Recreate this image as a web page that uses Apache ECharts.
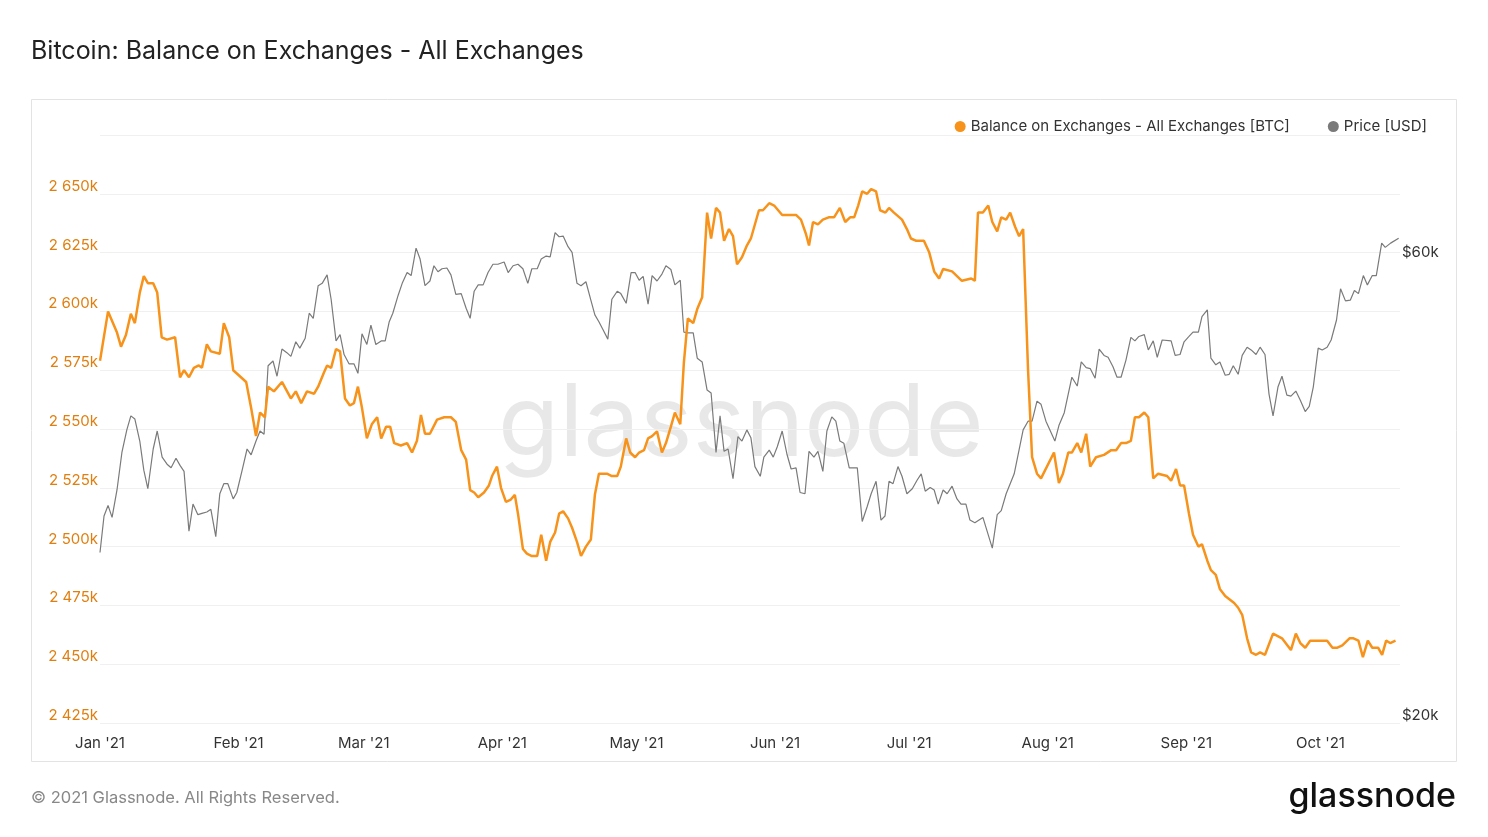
<!DOCTYPE html>
<html>
<head>
<meta charset="utf-8">
<script src="https://cdn.jsdelivr.net/npm/echarts@6/dist/echarts.min.js"></script>
<style>
  body { margin: 0; background: #fff; }
  #main { width: 1488px; height: 837px; }
</style>
</head>
<body>
<div id="main"></div>
<script>
// days since 1 Jan 2021, balance in thousand BTC
var balDay = [0,1.8,3.8,4.7,5.8,6.9,7.8,8.9,9.8,10.7,11.9,12.8,13.8,15,16.8,17.9,18.8,19.9,21,22.1,22.8,23.9,24.8,26.8,27.7,28.9,29.8,32.7,33.8,34.9,35.8,36.9,37.6,38.9,40.7,42.7,43.8,45,46.3,47.9,48.8,50.1,50.8,51.7,52.8,53.7,54.8,55.9,56.8,57.7,58.6,59.7,60.8,62,62.9,64,64.9,65.8,67.3,68.7,69.8,70.9,71.8,72.7,73.8,75.4,77,78.5,79.6,80.8,81.9,82.8,83.7,84.6,85.9,87,87.7,88.8,89.7,90.8,91.9,92.8,93.5,94.6,95.5,96.6,97.8,98.7,99.8,100.7,101.8,102.7,103.6,104.7,105.6,106.7,107.6,108.7,109.8,110.7,111.6,112.5,113.4,114.5,115.7,116.5,117.7,118.6,119.7,120.6,121.7,122.6,123.5,124.6,125.7,126.6,127.7,128.6,129.8,130.6,131.5,132.7,133.6,134.7,135.8,136.7,137.8,138.7,139.6,140.7,141.6,142.5,143.6,144.7,145.6,147.4,148.3,149.7,150.8,152.6,154.6,155.7,156.8,157.9,158.6,159.5,160.6,161.7,163,164.2,165.5,166.7,167.8,168.7,169.6,170.5,171.6,172.5,173.6,174.5,175.7,176.5,177.6,179.4,180.5,181.4,182.6,184.3,185.5,186.6,187.7,188.6,190.6,191.7,192.8,194.9,195.7,196.4,197.5,198.7,199.6,200.7,201.6,202.7,203.6,204.7,205.6,206.5,207.6,208.5,209.6,210.5,213.4,214.5,215.4,216.6,217.4,218.6,219.5,220.6,221.5,222.8,224.6,226.2,227.3,228.4,229.5,230.6,231.5,232.4,233.6,234.5,235.6,236.7,238.7,239.6,240.7,241.6,242.5,243.6,244.5,245.7,246.5,247.7,248.5,249.6,250.5,251.7,253.7,254.6,255.5,256.6,257.5,258.6,259.5,260.6,262.4,264.4,266.4,267.5,268.5,269.6,270.7,274.5,275.7,276.8,277.9,279.5,280.4,281.5,282.5,283.6,284.6,285.9,286.8,287.7,288.6,289.8];
var balVal = [2579,2600,2591,2585,2590,2599,2595,2608,2615,2612,2612,2608,2589,2588,2589,2572,2575,2572,2576,2577,2576,2586,2583,2582,2595,2589,2575,2570,2559,2547,2557,2555,2568,2566,2570,2563,2566,2561,2566,2565,2568,2574,2577,2576,2584,2583,2563,2560,2561,2568,2559,2546,2552,2555,2546,2551,2551,2544,2543,2544,2540,2545,2556,2548,2548,2554,2555,2555,2553,2541,2537,2524,2523,2521,2523,2526,2530,2534,2525,2519,2520,2522,2514,2499,2497,2496,2496,2505,2494,2502,2506,2514,2515,2512,2508,2502,2496,2500,2503,2522,2531,2531,2531,2530,2530,2534,2546,2540,2538,2540,2541,2546,2547,2549,2540,2544,2551,2557,2552,2578,2597,2595,2601,2606,2642,2631,2644,2642,2630,2635,2632,2620,2623,2628,2631,2643,2643,2646,2645,2641,2641,2641,2639,2633,2628,2638,2637,2639,2640,2640,2644,2638,2640,2640,2645,2651,2650,2652,2651,2643,2642,2644,2642,2639,2635,2631,2630,2630,2625,2617,2614,2618,2617,2615,2613,2614,2613,2642,2642,2645,2638,2634,2640,2639,2642,2636,2632,2635,2575,2538,2531,2529,2540,2527,2531,2540,2540,2544,2540,2548,2534,2538,2539,2541,2541,2544,2544,2545,2555,2555,2557,2555,2529,2531,2530,2528,2533,2526,2526,2514,2505,2500,2501,2494,2490,2488,2482,2479,2476,2474,2471,2461,2455,2454,2455,2454,2463,2461,2456,2463,2459,2457,2460,2460,2457,2457,2458,2461,2461,2460,2453,2460,2457,2457,2454,2460,2459,2460];

// days since 1 Jan 2021, price in thousand USD
var priceDay = [0,0.9,1.8,2.7,3.8,4.9,6,6.9,7.8,8.9,9.8,10.7,11.9,12.8,13.9,15,15.9,17,17.9,18.8,19.9,20.8,21.9,22.8,23.9,24.8,25.9,26.8,27.7,28.6,29.8,30.6,31.8,32.9,33.8,34.9,35.8,36.7,37.6,38.7,39.6,40.7,41.8,42.7,43.8,44.7,45.9,46.8,47.7,48.8,49.7,50.8,51.7,52.8,53.7,54.6,55.7,56.8,57.7,58.6,59.7,60.6,61.7,62.9,63.8,64.7,65.5,66.7,67.6,68.7,69.6,70.7,71.6,72.7,73.8,74.7,75.6,76.5,77.6,78.5,79.6,80.8,81.9,82.8,83.7,84.6,85.7,86.8,87.9,89,90.4,91.3,92.4,93.5,94.6,95.7,96.6,97.8,98.7,99.8,100.7,101.8,102.7,103.6,104.7,105.6,106.7,107.6,108.7,109.8,110.7,111.6,112.5,113.6,114.5,115.7,116.5,117.7,118.8,119.7,120.6,121.5,122.6,123.5,124.6,125.7,126.6,127.7,128.6,129.8,130.6,131.5,132.7,133.6,134.7,135.8,136.7,137.8,138.7,139.6,140.5,141.6,142.7,143.6,144.7,145.6,146.5,147.7,148.5,149.7,150.6,151.5,152.6,153.7,154.6,155.7,156.6,157.7,158.6,159.7,160.6,161.7,162.6,163.7,164.6,165.5,166.4,167.6,169.4,170.5,171.6,172.5,173.6,174.7,175.6,176.5,177.4,178.5,179.4,180.5,181.7,182.8,183.7,184.6,185.7,186.6,187.5,188.6,189.5,190.6,191.7,192.6,193.7,194.6,195.7,197.5,199.6,200.7,201.6,202.7,204.5,206.5,207.6,208.5,209.6,210.5,211.6,213.6,214.5,215.7,217.4,218.6,219.5,220.6,221.5,222.6,223.5,224.6,225.5,226.6,227.5,228.4,229.5,230.6,231.5,232.4,233.6,234.5,235.6,236.5,237.6,239.6,240.5,241.6,242.5,243.6,244.5,245.7,246.5,247.7,248.5,249.6,250.5,251.7,252.6,253.5,254.6,255.5,256.6,257.5,258.6,259.5,260.6,261.5,262.4,263.5,264.4,265.5,266.4,267.5,268.5,269.6,270.5,271.4,272.5,273.4,274.5,275.4,276.6,277.5,278.6,279.7,280.6,281.5,282.6,283.5,284.6,285.5,286.7,287.5,288.7,290.5];
var priceVal = [29.3,31.9,32.7,31.8,33.9,37.0,39.0,40.3,40.0,38.0,35.5,34.0,37.3,38.9,36.6,36.0,35.7,36.5,35.9,35.4,30.8,32.8,32.0,32.1,32.2,32.4,30.4,33.6,34.4,34.4,33.2,33.7,35.5,37.3,36.8,38.0,38.9,38.6,45.3,45.8,44.2,47.1,46.7,46.3,47.9,47.2,48.3,51.2,50.6,54.6,54.9,56.0,52.9,48.0,48.7,46.5,45.5,45.5,44.5,48.8,47.6,49.8,47.6,48.0,48.0,50.2,51.2,53.4,54.9,56.3,55.9,59.6,58.1,54.6,55.2,57.2,56.4,56.8,56.9,56.0,53.5,53.6,51.8,50.6,53.9,54.7,54.7,56.3,57.4,57.4,57.7,56.3,57.2,57.4,56.8,54.9,56.8,56.8,58.1,58.5,58.4,61.8,61.2,61.3,59.8,59.0,54.9,54.6,55.1,52.8,51.0,50.2,49.3,48.2,52.9,53.9,53.6,52.4,56.3,56.3,55.3,55.8,52.3,55.9,55.2,56.1,57.2,56.7,54.7,55.3,49.0,48.9,48.9,46.1,45.7,42.8,42.5,37.0,40.3,37.1,37.3,34.8,38.4,38.0,39.0,38.3,35.8,35.0,36.6,37.2,36.6,37.5,38.9,36.8,35.6,35.7,33.7,33.6,37.1,36.6,37.1,35.4,38.9,40.2,39.8,38.0,37.8,35.7,35.7,31.5,32.6,33.6,34.6,31.6,31.9,34.6,34.4,35.8,35.0,33.6,34.0,34.7,35.2,33.8,34.1,33.9,32.8,33.9,33.6,34.2,33.2,32.8,32.8,31.6,31.4,31.8,29.6,32.0,32.3,33.6,35.2,39.0,39.8,39.8,41.7,41.4,39.8,38.0,39.4,40.6,44.1,43.2,45.7,45.1,45.0,44.0,47.1,46.4,46.2,45.2,44.1,44.1,45.9,48.4,48.0,48.5,48.7,47.0,48.0,46.2,48.1,48.0,46.4,46.5,47.9,48.5,49.0,49.0,50.8,51.6,46.1,45.4,45.7,44.3,44.4,45.3,44.4,46.4,47.3,47.0,46.5,47.3,46.5,42.4,40.3,43.1,44.2,42.3,42.2,42.7,41.8,40.7,41.2,43.1,47.2,47.0,47.3,48.1,50.4,54.2,52.7,52.8,54.0,53.6,55.9,54.7,55.9,55.9,60.3,59.7,60.3,61.0];

var DAY = 864e5;
var t0 = new Date(2021, 0, 1).getTime();
function pairs(days, vals, mult) {
  return days.map(function (d, i) { return [t0 + d * DAY, vals[i] * mult]; });
}

var chart = echarts.init(document.getElementById('main'));
chart.setOption({
  animation: false,
  backgroundColor: '#fff',
  textStyle: { fontFamily: 'Inter, "Noto Sans", sans-serif' },
  graphic: [
    { type: 'text', left: 31, top: 39, style: { text: 'Bitcoin: Balance on Exchanges - All Exchanges', fontSize: 25, fill: '#222', fontFamily: 'Inter' } },
    { type: 'rect', shape: { x: 31.5, y: 99.5, width: 1425, height: 662 }, style: { fill: 'none', stroke: '#e3e3e3', lineWidth: 1 }, z: -1 },
    { type: 'text', left: 498, top: 376, style: { text: 'glassnode', fontSize: 100, fill: 'rgba(0,0,0,0.09)', fontFamily: 'Inter' }, z: 0 },
    { type: 'text', left: 31, top: 790, style: { text: '\u00a9 2021 Glassnode. All Rights Reserved.', fontSize: 16.5, fill: '#888', fontFamily: 'Inter' } },
    { type: 'text', right: 32, top: 780, style: { text: 'glassnode', fontSize: 34, fill: '#111', fontFamily: 'Inter', fontWeight: 500 } }
  ],
  legend: {
    right: 56, top: 114, itemWidth: 11, itemHeight: 11, itemGap: 38, icon: 'circle',
    textStyle: { fontSize: 15, color: '#333' },
    data: ['Balance on Exchanges - All Exchanges [BTC]', 'Price [USD]']
  },
  grid: { left: 100, right: 88, top: 135, bottom: 114 },
  xAxis: {
    type: 'time',
    min: t0, max: t0 + 290.8 * DAY,
    minInterval: 28 * DAY, maxInterval: 31 * DAY,
    axisLine: { show: false }, axisTick: { show: false }, splitLine: { show: false },
    axisLabel: { formatter: "{MMM} '{yy}", color: '#333', fontSize: 15, margin: 13, showMinLabel: true }
  },
  yAxis: [{
    type: 'value', min: 2425, max: 2675, interval: 25,
    axisLine: { show: false }, axisTick: { show: false },
    splitLine: { lineStyle: { color: '#f0f0f0' } },
    axisLabel: {
      color: '#e07f10', fontSize: 15, margin: 2, verticalAlign: 'bottom', showMaxLabel: false,
      formatter: function (v) { return '2 ' + (v - 2000) + 'k'; }
    }
  }, {
    type: 'log', logBase: 3, min: 19683, max: 77600,
    axisLine: { show: false }, axisTick: { show: false }, splitLine: { show: false },
    axisLabel: {
      color: '#333', fontSize: 15, margin: 2, showMaxLabel: false,
      formatter: function (v) { return v < 30000 ? '$20k\n' : '$60k'; }
    }
  }],
  series: [{
    name: 'Balance on Exchanges - All Exchanges [BTC]', type: 'line', yAxisIndex: 0,
    data: pairs(balDay, balVal, 1), showSymbol: false, z: 3,
    itemStyle: { color: '#f7931a' }, lineStyle: { color: '#f7931a', width: 2.5 }
  }, {
    name: 'Price [USD]', type: 'line', yAxisIndex: 1,
    data: pairs(priceDay, priceVal, 1000), showSymbol: false, z: 2,
    itemStyle: { color: '#7a7a7a' }, lineStyle: { color: '#7a7a7a', width: 1.2 }
  }]
});
</script>
</body>
</html>
